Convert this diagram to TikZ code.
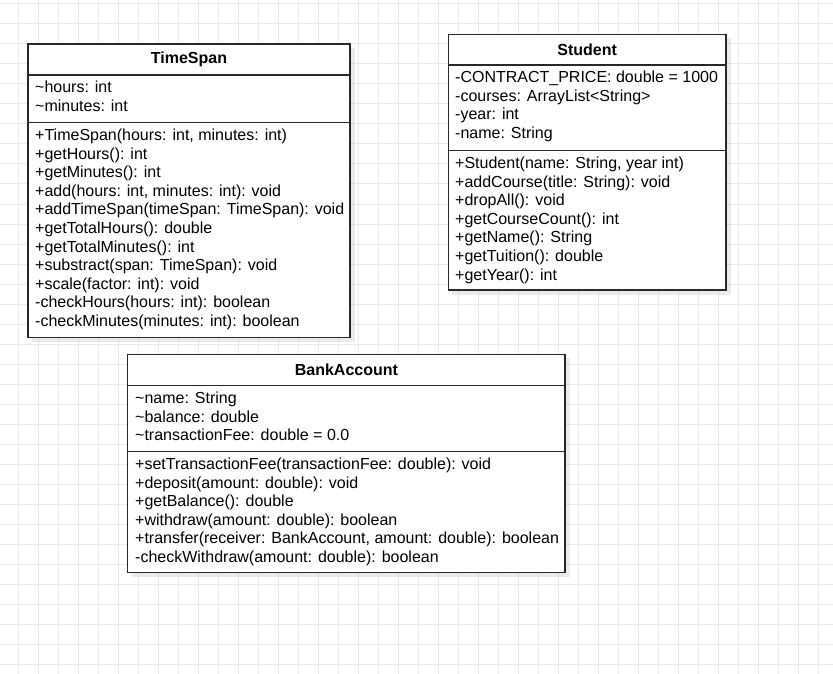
\documentclass[tikz,border=0pt]{standalone}
\usepackage{fontspec}
\setmainfont{Liberation Sans}
\definecolor{gridc}{RGB}{235,235,235}
\definecolor{boxline}{RGB}{40,40,40}
\tikzset{
  classbox/.style={draw=boxline, fill=white, line width=1.3pt},
  divider/.style={draw=boxline, line width=1.3pt},
  shadowbox/.style={fill=black, fill opacity=0.08, draw=none},
  member/.style={anchor=base west, inner sep=0pt, font=\fontsize{16}{18.6}\selectfont},
  classtitle/.style={anchor=center, inner sep=0pt, font=\bfseries\fontsize{16}{18.6}\selectfont},
  gridline/.style={draw=gridc, line width=1pt}
}
\begin{document}
\begin{tikzpicture}[x=1pt,y=-1pt]
\useasboundingbox (0,0) rectangle (833,674);
\fill[white] (0,0) rectangle (833,674);
% grid
\foreach \x in {18,38,...,818} \draw[gridline] (\x,0) -- (\x,674);
\foreach \y in {4,24,...,664} \draw[gridline] (0,\y) -- (833,\y);

% ---------- TimeSpan ----------
\path[shadowbox] (32,48) rectangle (354.5,341.5);
\draw[classbox] (28,44) rectangle (350,337.3);
\draw[divider] (28,75) -- (350,75);
\draw[divider] (28,122.7) -- (350,122.7);
\node[classtitle] (ts) at (189,59.5) {TimeSpan};
\foreach \t [count=\i from 0] in {{\textasciitilde hours: int},{\textasciitilde minutes: int}}
  \node[member] (ts-a\i) at (35,92.8+18.6*\i) {\t};
\foreach \t [count=\i from 0] in {{+TimeSpan(hours: int, minutes: int)},{+getHours(): int},{+getMinutes(): int},{+add(hours: int, minutes: int): void},{+addTimeSpan(timeSpan: TimeSpan): void},{+getTotalHours(): double},{+getTotalMinutes(): int},{+substract(span: TimeSpan): void},{+scale(factor: int): void},{-checkHours(hours: int): boolean},{-checkMinutes(minutes: int): boolean}}
  \node[member] (ts-m\i) at (35,140.5+18.6*\i) {\t};

% ---------- Student ----------
\path[shadowbox] (452.3,38.3) rectangle (730.5,294.5);
\draw[classbox] (448.3,34.3) rectangle (726,290);
\draw[divider] (448.3,65) -- (726,65);
\draw[divider] (448.3,150.7) -- (726,150.7);
\node[classtitle] (st) at (587.2,49.7) {Student};
\foreach \t [count=\i from 0] in {{-CONTRACT\_PRICE: double = 1000},{-courses: ArrayList<String>},{-year: int},{-name: String}}
  \node[member] (st-a\i) at (455,82.8+18.6*\i) {\t};
\foreach \t [count=\i from 0] in {{+Student(name: String, year int)},{+addCourse(title: String): void},{+dropAll(): void},{+getCourseCount(): int},{+getName(): String},{+getTuition(): double},{+getYear(): int}}
  \node[member] (st-m\i) at (455,168.5+18.6*\i) {\t};

% ---------- BankAccount ----------
\path[shadowbox] (131.7,358.3) rectangle (569.5,577);
\draw[classbox] (127.7,354.3) rectangle (565,572.7);
\draw[divider] (127.7,385.7) -- (565,385.7);
\draw[divider] (127.7,451.7) -- (565,451.7);
\node[classtitle] (ba) at (346.4,370) {BankAccount};
\foreach \t [count=\i from 0] in {{\textasciitilde name: String},{\textasciitilde balance: double},{\textasciitilde transactionFee: double = 0.0}}
  \node[member] (ba-a\i) at (135,403.5+18.6*\i) {\t};
\foreach \t [count=\i from 0] in {{+setTransactionFee(transactionFee: double): void},{+deposit(amount: double): void},{+getBalance(): double},{+withdraw(amount: double): boolean},{+transfer(receiver: BankAccount, amount: double): boolean},{-checkWithdraw(amount: double): boolean}}
  \node[member] (ba-m\i) at (135,469.5+18.6*\i) {\t};
\end{tikzpicture}
\end{document}
